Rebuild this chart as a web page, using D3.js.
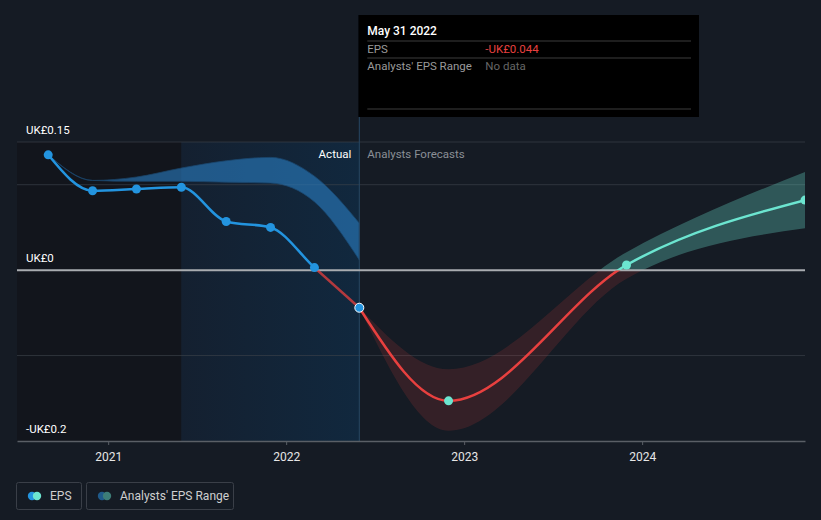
<!DOCTYPE html>
<html><head><meta charset="utf-8">
<script src="https://cdn.jsdelivr.net/npm/d3@7"></script>
<style>
html,body{margin:0;padding:0;background:#151b24;}
svg{display:block;font-family:Roboto,"Noto Sans",sans-serif;}
</style></head>
<body>
<svg id="c" width="821" height="520"></svg>
<script>
// ---- data ----
const actualDates = ["2020-08-31","2020-11-30","2021-02-28","2021-05-31","2021-08-31","2021-11-30","2022-02-28","2022-05-31"];
const actualEps   = [0.135, 0.093, 0.095, 0.097, 0.057, 0.050, 0.003, -0.044];
const pastRangeLow  = [0.135, 0.105, 0.104, 0.104, 0.103, 0.102, 0.080, 0.012];
const pastRangeHigh = [0.135, 0.105, 0.109, 0.1195, 0.128, 0.132, 0.110, 0.055];
const forecastDates = ["2022-05-31","2022-11-30","2023-11-30","2024-11-30"];
const forecastEps   = [-0.044, -0.153, 0.006, 0.082];
const forecastLow   = [-0.044, -0.188, -0.010, 0.049];
const forecastHigh  = [-0.044, -0.116, 0.021, 0.115];
const yTickValues = [0.15, 0, -0.2];
const yTickLabels = ["UK£0.15", "UK£0", "-UK£0.2"];
const yGridValues = [0.15, 0.1, -0.1];
const xTickYears = ["2021","2022","2023","2024"];
const tooltipDate = "May 31 2022";
const tooltipEps = "-UK£0.044";
const tooltipRange = "No data";

const parse = d3.timeParse("%Y-%m-%d");
const svg = d3.select("#c");
const W = 821, H = 520;
const x = d3.scaleTime().domain([parse("2020-06-28"), parse("2024-11-30")]).range([17, 805]);
const y = d3.scaleLinear().domain([-0.2, 0.15]).range([441, 142]);
const y0 = y(0);

const actual = actualDates.map((d,i)=>({d:parse(d), v:actualEps[i], lo:pastRangeLow[i], hi:pastRangeHigh[i]}));
const fc = forecastDates.map((d,i)=>({d:parse(d), v:forecastEps[i], lo:forecastLow[i], hi:forecastHigh[i]}));
const lastActual = actual[actual.length-1];
const highlightStart = parse("2021-05-31");

const defs = svg.append("defs");
const g1 = defs.append("linearGradient").attr("id","pastGrad").attr("x1","0").attr("x2","1").attr("y1","0").attr("y2","0");
g1.append("stop").attr("offset","0").attr("stop-color","#142030");
g1.append("stop").attr("offset","1").attr("stop-color","#11283e");
defs.append("clipPath").attr("id","above").append("rect").attr("x",0).attr("y",0).attr("width",W).attr("height",y0);
defs.append("clipPath").attr("id","below").append("rect").attr("x",0).attr("y",y0).attr("width",W).attr("height",H-y0);
defs.append("clipPath").attr("id","plot").append("rect").attr("x",17).attr("y",0).attr("width",805-17).attr("height",441);

// background regions
svg.append("rect").attr("x",17).attr("y",142).attr("width",x(highlightStart)-17).attr("height",441-142).attr("fill","#12151c");
svg.append("rect").attr("x",x(highlightStart)).attr("y",142).attr("width",x(lastActual.d)-x(highlightStart)).attr("height",441-142).attr("fill","url(#pastGrad)");

// gridlines
svg.append("g").selectAll("line").data(yGridValues).join("line")
  .attr("x1",17).attr("x2",805).attr("y1",d=>y(d)).attr("y2",d=>y(d))
  .attr("stroke","#3a4049").attr("stroke-width",1).attr("opacity",0.7);

// past range band
const area = d3.area().x(d=>x(d.d)).y0(d=>y(d.lo)).y1(d=>y(d.hi)).curve(d3.curveMonotoneX);
svg.append("path").datum(actual).attr("d",area).attr("fill","#2a7fc4").attr("opacity",0.6)
  .attr("stroke","#1f5f95").attr("stroke-width",0.8);

// forecast band
svg.append("path").datum(fc).attr("d",area).attr("fill","#e8403f").attr("opacity",0.15).attr("clip-path","url(#below)");
svg.append("path").datum(fc).attr("d",area).attr("fill","#6ce5d0").attr("opacity",0.3).attr("clip-path","url(#above)");

// vertical divider
svg.append("line").attr("x1",x(lastActual.d)).attr("x2",x(lastActual.d)).attr("y1",15).attr("y2",441)
  .attr("stroke","#274864").attr("stroke-width",1);

// zero line
svg.append("line").attr("x1",17).attr("x2",805).attr("y1",y0).attr("y2",y0).attr("stroke","#a9acb0").attr("stroke-width",2);

// x axis
const xAxis = d3.axisBottom(x).tickValues(xTickYears.map(s=>parse(s+"-01-01"))).tickFormat(d3.timeFormat("%Y")).tickSize(4).tickSizeOuter(0);
const xa = svg.append("g").attr("transform","translate(0,441)").call(xAxis);
xa.select(".domain").attr("stroke","#5a5f66").attr("stroke-width",1.5);
xa.selectAll(".tick line").attr("stroke","#5a5f66");
xa.selectAll(".tick text").attr("fill","#e6e6e6").attr("font-size",12).attr("dy","1.05em").attr("font-family","Roboto");

// y labels
svg.append("g").selectAll("text").data(yTickValues).join("text")
  .attr("x",26).attr("y",d=>y(d)-8).attr("fill","#ffffff").attr("font-size",11.5)
  .text((d,i)=>yTickLabels[i]);

// lines
const line = d3.line().x(d=>x(d.d)).y(d=>y(d.v)).curve(d3.curveMonotoneX);
svg.append("path").datum(actual).attr("d",line).attr("fill","none").attr("stroke","#2394df").attr("stroke-width",2.5).attr("clip-path","url(#above)");
svg.append("path").datum(actual).attr("d",line).attr("fill","none").attr("stroke","#e8403f").attr("stroke-opacity",0.75).attr("stroke-width",2.5).attr("clip-path","url(#below)");
const fg = svg.append("g").attr("clip-path","url(#plot)");
fg.append("path").datum(fc).attr("d",line).attr("fill","none").attr("stroke","#e8403f").attr("stroke-width",2.5).attr("clip-path","url(#below)");
fg.append("path").datum(fc).attr("d",line).attr("fill","none").attr("stroke","#6ce5d0").attr("stroke-width",2.5).attr("clip-path","url(#above)");

// points
svg.append("g").selectAll("circle").data(actual.slice(0,-1)).join("circle")
  .attr("cx",d=>x(d.d)).attr("cy",d=>y(d.v)).attr("r",4.5).attr("fill","#2394df");
svg.append("circle").attr("cx",x(lastActual.d)).attr("cy",y(lastActual.v)).attr("r",4.5).attr("fill","#2394df").attr("stroke","#ffffff").attr("stroke-width",1);
fg.append("g").selectAll("circle").data(fc.slice(1)).join("circle")
  .attr("cx",d=>x(d.d)).attr("cy",d=>y(d.v)).attr("r",4.5).attr("fill","#6ce5d0");

// Actual / Forecast labels
svg.append("text").attr("x",x(lastActual.d)-8).attr("y",158).attr("text-anchor","end").attr("fill","#ffffff").attr("font-size",11.5).text("Actual");
svg.append("text").attr("x",x(lastActual.d)+8).attr("y",158).attr("fill","#8a8f96").attr("font-size",11.5).text("Analysts Forecasts");

// tooltip
const tx = x(lastActual.d);
const tt = svg.append("g");
tt.append("rect").attr("x",tx-1).attr("y",15).attr("width",699-tx+1).attr("height",102).attr("fill","#000000");
tt.append("text").attr("x",tx+8).attr("y",35).attr("fill","#ffffff").attr("font-size",12).attr("font-weight",500).text(tooltipDate);
[41,58,109].forEach(yy=>tt.append("line").attr("x1",tx+8).attr("x2",691).attr("y1",yy).attr("y2",yy).attr("stroke","#3c3c3c").attr("stroke-width",1));
tt.append("text").attr("x",tx+8).attr("y",53).attr("fill","#9a9a9a").attr("font-size",11.5).text("EPS");
tt.append("text").attr("x",tx+126).attr("y",53).attr("fill","#e8403f").attr("font-size",11.5).text(tooltipEps);
tt.append("text").attr("x",tx+8).attr("y",70).attr("fill","#9a9a9a").attr("font-size",11.5).text("Analysts' EPS Range");
tt.append("text").attr("x",tx+126).attr("y",70).attr("fill","#666666").attr("font-size",11.5).text(tooltipRange);

// legend
const lg = svg.append("g");
lg.append("rect").attr("x",16.5).attr("y",482.5).attr("width",65).attr("height",27).attr("rx",2).attr("fill","none").attr("stroke","#3a3f48");
lg.append("circle").attr("cx",32).attr("cy",496).attr("r",4.2).attr("fill","#2394df");
lg.append("circle").attr("cx",37).attr("cy",496).attr("r",4.2).attr("fill","#6ce5d0");
lg.append("text").attr("x",50).attr("y",500).attr("fill","#cfcfcf").attr("font-size",12).text("EPS");
lg.append("rect").attr("x",86.5).attr("y",482.5).attr("width",147).attr("height",27).attr("rx",2).attr("fill","none").attr("stroke","#3a3f48");
lg.append("circle").attr("cx",102).attr("cy",496).attr("r",4.2).attr("fill","#1f5a8a");
lg.append("circle").attr("cx",107).attr("cy",496).attr("r",4.2).attr("fill","#3d7d78");
lg.append("text").attr("x",120).attr("y",500).attr("fill","#cfcfcf").attr("font-size",12).text("Analysts' EPS Range");
</script>
</body></html>
